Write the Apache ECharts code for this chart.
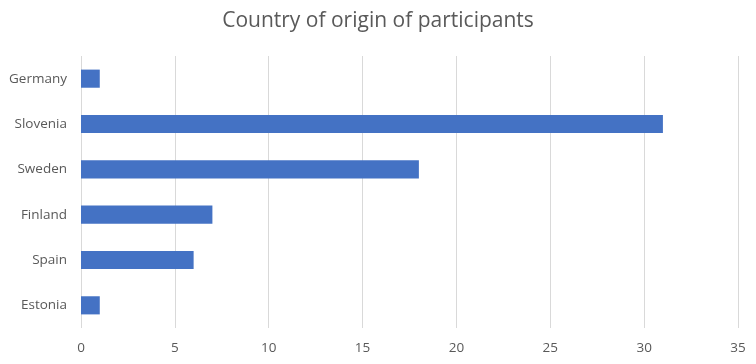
<!DOCTYPE html>
<html><head><meta charset="utf-8">
<script src="https://cdn.jsdelivr.net/npm/echarts@6/dist/echarts.min.js"></script>
<style>html,body{margin:0;padding:0;background:#fff}#c{width:756px;height:364px}</style>
</head><body><div id="c"></div>
<script>
const categories = ["Germany", "Slovenia", "Sweden", "Finland", "Spain", "Estonia"];
const values = [1, 31, 18, 7, 6, 1];
const title = "Country of origin of participants";

const chart = echarts.init(document.getElementById('c'), null, {renderer: 'canvas'});
chart.setOption({
  animation: false,
  title: {text: title, left: 'center', top: 6,
    textStyle: {fontFamily: 'Open Sans', fontSize: 21, fontWeight: 'normal', color: '#595959'}},
  grid: {left: 81, right: 18, top: 56, bottom: 36},
  xAxis: {type: 'value', min: 0, max: 35, interval: 5,
    axisLine: {show: false}, axisTick: {show: false},
    splitLine: {lineStyle: {color: '#d9d9d9', width: 1}},
    axisLabel: {margin: 13, fontFamily: 'Open Sans', fontSize: 13.5, color: '#595959'}},
  yAxis: {type: 'category', inverse: true, data: categories,
    axisLine: {show: false}, axisTick: {show: false},
    axisLabel: {margin: 14, fontFamily: 'Open Sans', fontSize: 13.5, color: '#595959'}},
  series: [{type: 'bar', data: values, barWidth: '40%', itemStyle: {color: '#4472c4'}}]
});
</script></body></html>
